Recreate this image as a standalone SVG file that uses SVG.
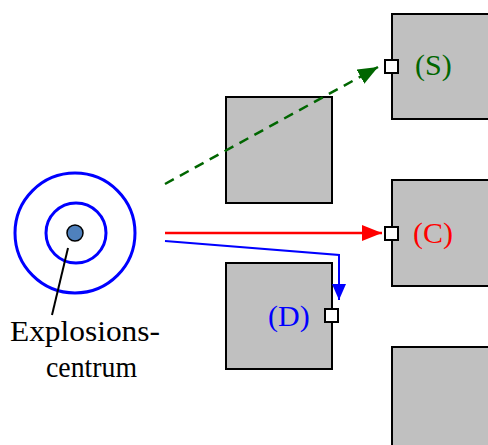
<svg xmlns="http://www.w3.org/2000/svg" width="488" height="445" viewBox="0 0 488 445">
<style>
.box{fill:#c0c0c0;stroke:#000;stroke-width:2}
.port{fill:#fff;stroke:#000;stroke-width:2}
.ring{fill:none;stroke:#0000ff;stroke-width:3}
text{font-family:"Liberation Serif","Times New Roman",serif;font-size:30px}
</style>
<defs>
<marker id="ag" viewBox="0 0 20 16" refX="20" refY="8" markerWidth="20" markerHeight="16" markerUnits="userSpaceOnUse" orient="auto"><path d="M0,0L20,8L0,16z" fill="#006600"/></marker>
<marker id="ar" viewBox="0 0 20 16" refX="20" refY="8" markerWidth="20" markerHeight="16" markerUnits="userSpaceOnUse" orient="auto"><path d="M0,0L20,8L0,16z" fill="#ff0000"/></marker>
<marker id="ab" viewBox="0 0 16 14" refX="16" refY="7" markerWidth="16" markerHeight="14" markerUnits="userSpaceOnUse" orient="auto"><path d="M0,0L16,7L0,14z" fill="#0000ff"/></marker>
</defs>
<g id="center">
<circle class="ring" cx="75" cy="233" r="60"/>
<circle class="ring" cx="76" cy="233" r="30"/>
<circle cx="75" cy="233" r="8" fill="#4f81bd" stroke="#000" stroke-width="1.5"/>
<line x1="68" y1="248" x2="52" y2="315" stroke="#000" stroke-width="2"/>
<text x="10" y="341" textLength="150" lengthAdjust="spacingAndGlyphs">Explosions-</text>
<text x="46" y="377" textLength="91" lengthAdjust="spacingAndGlyphs">centrum</text>
</g>
<g id="box-m1"><rect class="box" x="226" y="97" width="106" height="106"/></g>
<g id="box-m2"><rect class="box" x="226" y="263" width="106" height="106"/></g>
<g id="box-s"><rect class="box" x="392" y="14" width="110" height="105"/></g>
<g id="box-c"><rect class="box" x="392" y="180" width="110" height="106"/></g>
<g id="box-b"><rect class="box" x="392" y="347" width="110" height="110"/></g>
<g id="connectors">
<line x1="165" y1="184" x2="378" y2="67" stroke="#006600" stroke-width="2.5" stroke-dasharray="10,7" marker-end="url(#ag)"/>
<line x1="165" y1="233" x2="382" y2="233" stroke="#ff0000" stroke-width="2.5" marker-end="url(#ar)"/>
<polyline points="165,241 339,255 339,300" fill="none" stroke="#0000ff" stroke-width="2" marker-end="url(#ab)"/>
</g>
<g id="ports">
<rect class="port" x="385" y="60" width="13" height="13"/>
<rect class="port" x="385" y="227" width="13" height="13"/>
<rect class="port" x="325" y="309" width="13" height="13"/>
</g>
<g id="labels">
<text x="415" y="75" fill="#006600">(S)</text>
<text x="413" y="243" fill="#ff0000">(C)</text>
<text x="268" y="326" fill="#0000ff">(D)</text>
</g>
</svg>
